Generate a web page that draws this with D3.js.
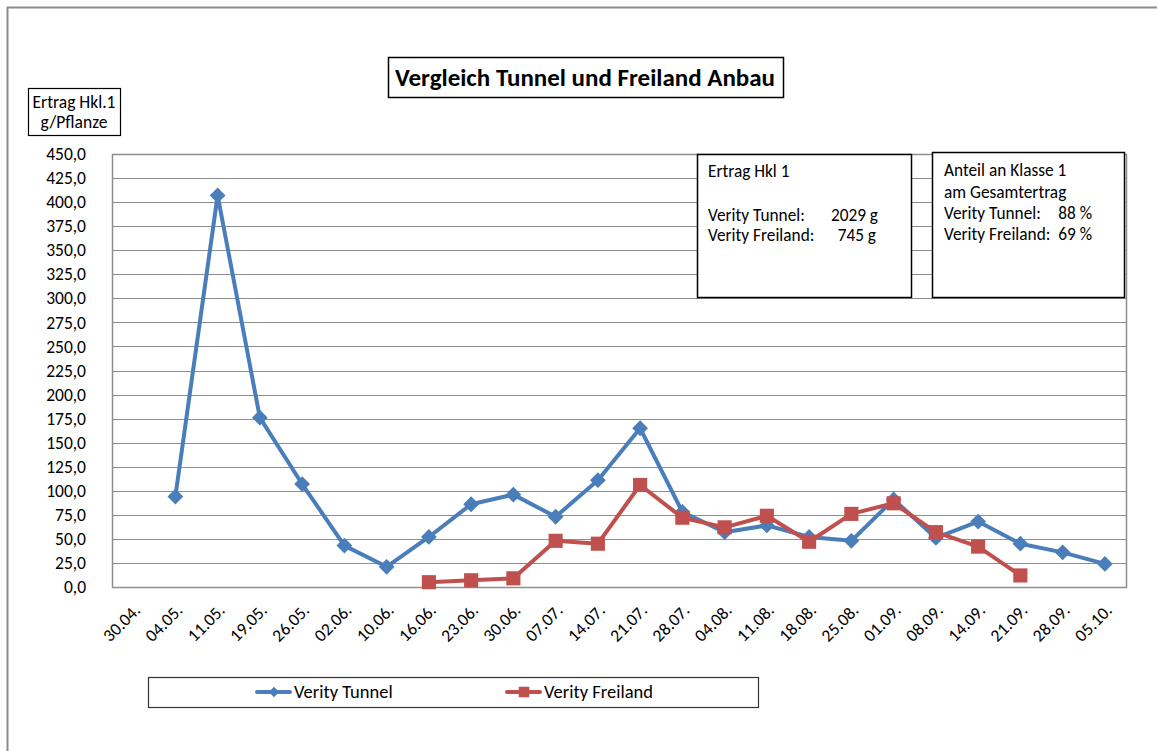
<!DOCTYPE html>
<html>
<head>
<meta charset="utf-8">
<script src="https://cdn.jsdelivr.net/npm/d3@7"></script>
<style>
  body { margin: 0; background: #fff; }
  svg text { font-family: Carlito, Lato, "Open Sans", sans-serif; fill: #000; }
</style>
</head>
<body>
<div id="chart"></div>
<script>
// Daten
const dates = ["30.04.", "04.05.", "11.05.", "19.05.", "26.05.", "02.06.", "10.06.", "16.06.",
  "23.06.", "30.06.", "07.07.", "14.07.", "21.07.", "28.07.", "04.08.", "11.08.", "18.08.",
  "25.08.", "01.09.", "08.09.", "14.09.", "21.09.", "28.09.", "05.10."];
const tunnel = [null, 94, 407, 176, 107, 43, 21, 52, 86, 96, 73, 111, 165, 78, 57, 64, 52,
  48, 91, 51, 68, 45, 36, 24];
const freiland = [null, null, null, null, null, null, null, 5, 7, 9, 48, 45, 106, 72, 62, 74,
  47, 76, 87, 57, 42, 12, null, null];
const yTicks = d3.range(0, 451, 25);
const seriesNames = ["Verity Tunnel", "Verity Freiland"];

const width = 1157, height = 751;
const blue = "#4a7ebb", red = "#c0504d";

const svg = d3.select("#chart").append("svg")
  .attr("width", width).attr("height", height);

// Rahmen
svg.append("rect").attr("x", 7.5).attr("y", 7.5).attr("width", 1160).attr("height", 760)
  .attr("fill", "none").attr("stroke", "#8c8c8c").attr("stroke-width", 2);

const plot = { left: 112, right: 1126, top: 154, bottom: 587 };

const x = d3.scaleBand().domain(dates).range([plot.left, plot.right]);
const y = d3.scaleLinear().domain([0, 450]).range([plot.bottom, plot.top]);

// Gitterlinien
svg.append("g").selectAll("line").data(yTicks).enter().append("line")
  .attr("x1", plot.left).attr("x2", plot.right)
  .attr("y1", d => Math.round(y(d)) + 0.5).attr("y2", d => Math.round(y(d)) + 0.5)
  .attr("stroke", "#8e8e8e").attr("stroke-width", 1);

svg.append("rect").attr("x", plot.left + 0.5).attr("y", plot.top + 0.5)
  .attr("width", plot.right - plot.left).attr("height", plot.bottom - plot.top)
  .attr("fill", "none").attr("stroke", "#8e8e8e").attr("stroke-width", 1.5);

// Y-Achse
const fmt = d => d3.format(".1f")(d).replace(".", ",");
svg.append("g").selectAll("text").data(yTicks).enter().append("text")
  .attr("x", 86).attr("y", d => y(d)).attr("dy", "0.35em")
  .attr("text-anchor", "end").style("font-size", "17.5px")
  .text(fmt);

// X-Achse
svg.append("g").selectAll("text").data(dates).enter().append("text")
  .attr("transform", d => `translate(${x(d) + x.bandwidth() / 2 + 4},${plot.bottom + 20}) rotate(-45)`)
  .attr("text-anchor", "end").attr("dy", "0.35em").style("font-size", "17.5px")
  .text(d => d);

// Linien
const line = d3.line()
  .defined(d => d.v != null)
  .x(d => x(d.date) + x.bandwidth() / 2)
  .y(d => y(d.v));

function drawSeries(values, color, isDiamond) {
  const pts = dates.map((date, i) => ({ date, v: values[i] }));
  svg.append("path").datum(pts)
    .attr("d", line).attr("fill", "none")
    .attr("stroke", color).attr("stroke-width", 4).attr("stroke-linejoin", "round");
  svg.append("g").selectAll("path").data(pts.filter(d => d.v != null)).enter().append("path")
    .attr("d", d3.symbol().type(d3.symbolSquare).size(isDiamond ? 125 : 200)())
    .attr("transform", d => `translate(${x(d.date) + x.bandwidth() / 2},${y(d.v)})` +
      (isDiamond ? " rotate(45)" : ""))
    .attr("fill", color);
}
drawSeries(tunnel, blue, true);
drawSeries(freiland, red, false);

// Titel
svg.append("rect").attr("x", 388.5).attr("y", 57.5).attr("width", 395).attr("height", 40)
  .attr("fill", "#fff").attr("stroke", "#000").attr("stroke-width", 1.5);
svg.append("text").attr("x", 585).attr("y", 86)
  .attr("text-anchor", "middle").style("font-size", "25px").style("font-weight", "bold")
  .text("Vergleich Tunnel und Freiland Anbau");

// Achsentitel
svg.append("rect").attr("x", 28.5).attr("y", 88.5).attr("width", 92).attr("height", 47)
  .attr("fill", "#fff").attr("stroke", "#000").attr("stroke-width", 1.2);
svg.append("text").attr("x", 74).attr("y", 108).attr("text-anchor", "middle")
  .style("font-size", "17.5px").text("Ertrag Hkl.1");
svg.append("text").attr("x", 74).attr("y", 128).attr("text-anchor", "middle")
  .style("font-size", "17.5px").text("g/Pflanze");

// Textfelder
function textBox(bx, by, bw, bh, lines) {
  svg.append("rect").attr("x", bx + 0.5).attr("y", by + 0.5).attr("width", bw).attr("height", bh)
    .attr("fill", "#fff").attr("stroke", "#000").attr("stroke-width", 1.5);
  lines.forEach(l => {
    svg.append("text").attr("x", l[0]).attr("y", l[1]).style("font-size", "17.3px")
      .attr("text-anchor", l[3] || "start").text(l[2]);
  });
}
textBox(697, 154, 214, 143, [
  [708, 177, "Ertrag Hkl 1"],
  [708, 221, "Verity Tunnel:"],
  [878, 221, "2029 g", "end"],
  [708, 241, "Verity Freiland:"],
  [876, 241, "745 g", "end"]
]);
textBox(932, 152, 192, 145, [
  [944, 176, "Anteil an Klasse 1"],
  [944, 198, "am Gesamtertrag"],
  [944, 219, "Verity Tunnel:"],
  [1092, 219, "88 %", "end"],
  [944, 240, "Verity Freiland:"],
  [1092, 240, "69 %", "end"]
]);

// Legende
svg.append("rect").attr("x", 148.5).attr("y", 677.5).attr("width", 610).attr("height", 30)
  .attr("fill", "#fff").attr("stroke", "#333").attr("stroke-width", 1.2);
const legend = [
  { name: seriesNames[0], color: blue, diamond: true, lx: 257 },
  { name: seriesNames[1], color: red, diamond: false, lx: 507 }
];
legend.forEach(l => {
  svg.append("line").attr("x1", l.lx).attr("x2", l.lx + 33).attr("y1", 692).attr("y2", 692)
    .attr("stroke", l.color).attr("stroke-width", 4).attr("stroke-linecap", "round");
  svg.append("path")
    .attr("d", d3.symbol().type(d3.symbolSquare).size(l.diamond ? 55 : 110)())
    .attr("transform", `translate(${l.lx + 17},692)` + (l.diamond ? " rotate(45)" : ""))
    .attr("fill", l.color);
  svg.append("text").attr("x", l.lx + 37).attr("y", 692).attr("dy", "0.35em")
    .style("font-size", "18.5px").text(l.name);
});
</script>
</body>
</html>
